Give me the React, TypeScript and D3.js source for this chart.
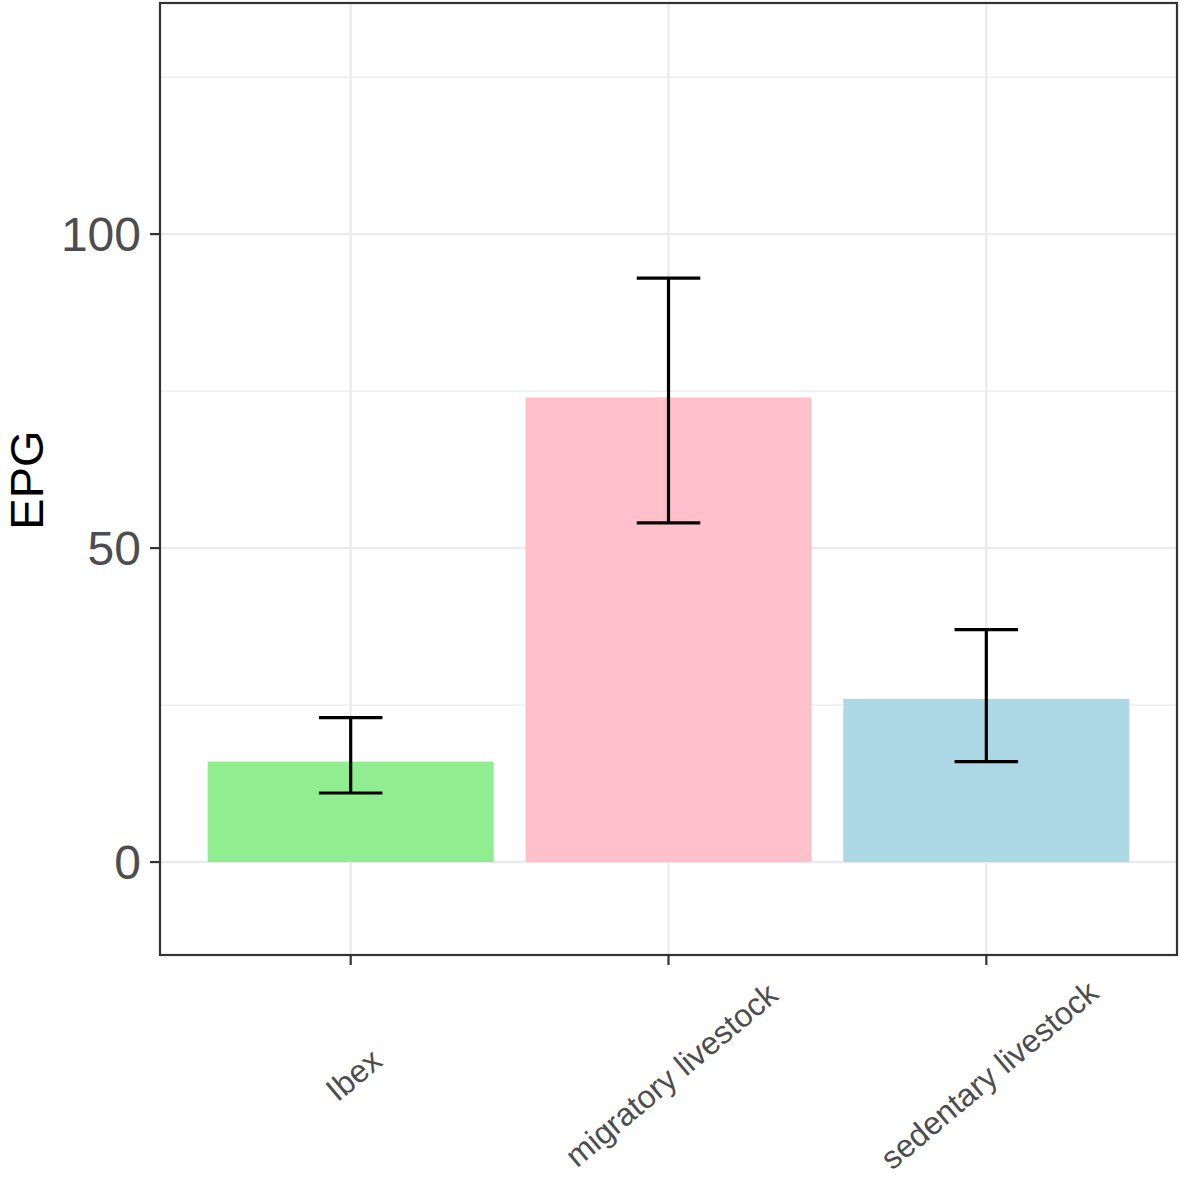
import React from "react";
import * as d3 from "d3";

const categories = ["Ibex", "migratory livestock", "sedentary livestock"];
const means = [16, 74, 26];
const lower = [11, 54, 16];
const upper = [23, 93, 37];
const barColors = ["#90EE90", "#FFC0CB", "#ADD8E6"];
const majorTicks = [0, 50, 100];
const minorTicks = [25, 75, 125];

const W = 1180;
const H = 1177;
const panel = { left: 160, right: 1177, top: 3, bottom: 955 };

export default function App() {
  const x = d3
    .scalePoint<string>()
    .domain(categories)
    .range([panel.left, panel.right])
    .padding(0.6);
  const step = x.step();
  const y = d3.scaleLinear().domain([-14.8, 136.8]).range([panel.bottom, panel.top]);
  const barW = step * 0.9;
  const capW = step * 0.2;
  const font = "'Liberation Sans', Arial, Helvetica, sans-serif";

  return (
    <svg
      width={W}
      height={H}
      style={{ position: "absolute", left: 0, top: 0, background: "#fff" }}
      fontFamily={font}
    >
      <rect x={0} y={0} width={W} height={H} fill="#fff" />
      {minorTicks.map((t) => (
        <line key={"mi" + t} x1={panel.left} x2={panel.right} y1={y(t)} y2={y(t)} stroke="#EBEBEB" strokeWidth={1.2} />
      ))}
      {majorTicks.map((t) => (
        <line key={"ma" + t} x1={panel.left} x2={panel.right} y1={y(t)} y2={y(t)} stroke="#EBEBEB" strokeWidth={2.4} />
      ))}
      {categories.map((c) => (
        <line key={"vg" + c} x1={x(c)} x2={x(c)} y1={panel.top} y2={panel.bottom} stroke="#EBEBEB" strokeWidth={2.4} />
      ))}
      {categories.map((c, i) => (
        <rect
          key={"b" + c}
          x={(x(c) as number) - barW / 2}
          y={y(means[i])}
          width={barW}
          height={y(0) - y(means[i])}
          fill={barColors[i]}
        />
      ))}
      {categories.map((c, i) => {
        const cx = x(c) as number;
        return (
          <g key={"e" + c} stroke="#000" strokeWidth={3.2} fill="none">
            <line x1={cx} x2={cx} y1={y(lower[i])} y2={y(upper[i])} />
            <line x1={cx - capW / 2} x2={cx + capW / 2} y1={y(upper[i])} y2={y(upper[i])} />
            <line x1={cx - capW / 2} x2={cx + capW / 2} y1={y(lower[i])} y2={y(lower[i])} />
          </g>
        );
      })}
      <rect
        x={panel.left}
        y={panel.top}
        width={panel.right - panel.left}
        height={panel.bottom - panel.top}
        fill="none"
        stroke="#333333"
        strokeWidth={2.2}
      />
      {majorTicks.map((t) => (
        <g key={"yt" + t}>
          <line x1={panel.left - 10} x2={panel.left} y1={y(t)} y2={y(t)} stroke="#333333" strokeWidth={2.2} />
          <text
            x={panel.left - 19}
            y={y(t)}
            textAnchor="end"
            dominantBaseline="central"
            fontSize={48}
            fill="#4D4D4D"
          >
            {t}
          </text>
        </g>
      ))}
      {categories.map((c) => (
        <g key={"xt" + c}>
          <line x1={x(c)} x2={x(c)} y1={panel.bottom} y2={panel.bottom + 10} stroke="#333333" strokeWidth={2.2} />
          <text
            transform={`translate(${(x(c) as number) + 3},${1075}) rotate(-40)`}
            textAnchor="middle"
            dominantBaseline="central"
            fontSize={32}
            fill="#4D4D4D"
          >
            {c}
          </text>
        </g>
      ))}
      <text
        transform={`translate(43,${480}) rotate(-90)`}
        textAnchor="middle"
        fontSize={47}
        fill="#000"
      >
        EPG
      </text>
    </svg>
  );
}
